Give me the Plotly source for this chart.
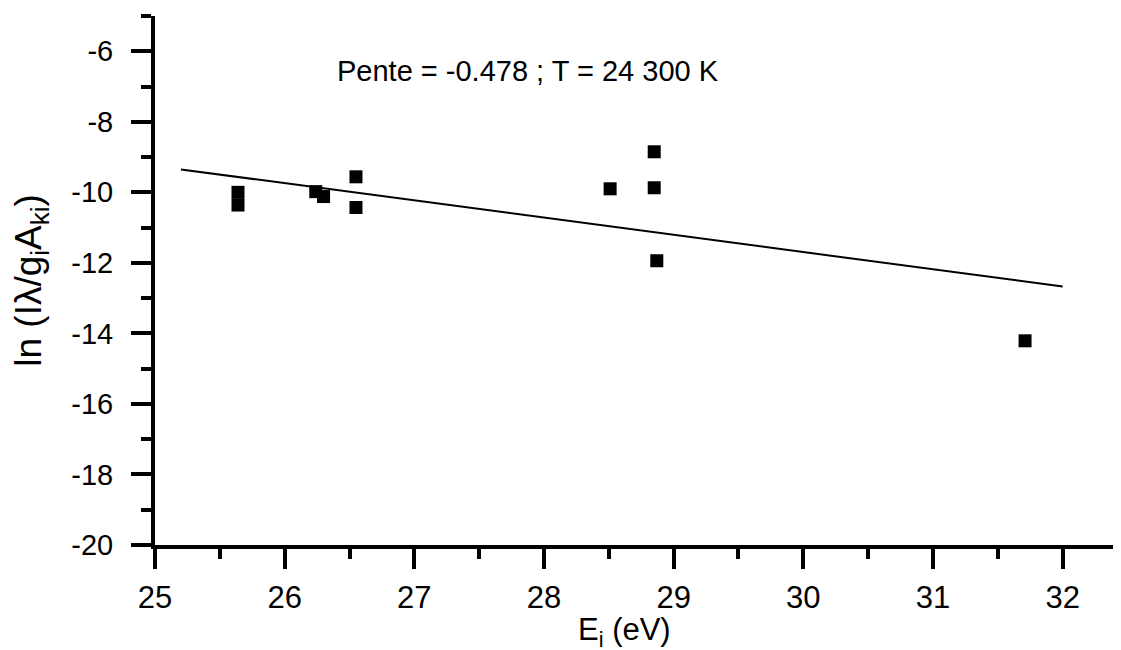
import plotly.graph_objects as go

energy_ev = [25.64, 25.64, 26.24, 26.30, 26.55, 26.55, 28.51, 28.85, 28.85, 28.87, 31.71]
ln_intensity = [-10.00, -10.36, -9.98, -10.12, -9.56, -10.43, -9.90, -8.85, -9.87, -11.94, -14.21]
fit_x = [25.2, 32.0]
fit_y = [-9.35, -12.67]
x_ticks = [25, 26, 27, 28, 29, 30, 31, 32]
y_ticks = [-6, -8, -10, -12, -14, -16, -18, -20]
y_tick_labels = ["-6", "-8", "-10", "-12", "-14", "-16", "-18", "-20"]
annotation_text = "Pente = -0.478 ; T = 24 300 K"
x_title = "E<sub>i</sub> (eV)"
y_title = "ln (I\u03bb/g<sub>i</sub>A<sub>ki</sub>)"

font_family = "Liberation Sans, Arial, sans-serif"

fig = go.Figure()
fig.add_trace(go.Scatter(x=fit_x, y=fit_y, mode="lines",
                         line=dict(color="black", width=2), showlegend=False))
fig.add_trace(go.Scatter(x=energy_ev, y=ln_intensity, mode="markers",
                         marker=dict(symbol="square", size=13, color="black", line=dict(width=0)),
                         showlegend=False))

fig.add_annotation(x=26.39, y=-6.57, xref="x", yref="y", xanchor="left", yanchor="middle",
                   text=annotation_text, showarrow=False,
                   font=dict(size=29, color="black", family=font_family))

# x-axis title placed as an annotation below the tick labels
fig.add_annotation(x=28.62, y=-0.165, xref="x", yref="paper", xanchor="center", yanchor="middle",
                   text=x_title, showarrow=False,
                   font=dict(size=31, color="black", family=font_family))

fig.update_layout(
    width=1121, height=650,
    margin=dict(l=147, r=8, t=8, b=113),
    plot_bgcolor="white", paper_bgcolor="white",
    font=dict(family=font_family, color="black"),
    xaxis=dict(range=[25, 32.45], showgrid=False, zeroline=False,
               showline=True, linecolor="black", linewidth=4,
               ticks="outside", ticklen=20, tickwidth=3.5, tickcolor="black",
               tickvals=x_ticks, tickfont=dict(size=31), ticklabelstandoff=2,
               minor=dict(ticks="outside", ticklen=10, tickwidth=3.5, dtick=0.5, tick0=25, tickcolor="black")),
    yaxis=dict(range=[-20, -5], showgrid=False, zeroline=False,
               showline=True, linecolor="black", linewidth=4,
               ticks="outside", ticklen=20, tickwidth=3.5, tickcolor="black",
               tickvals=y_ticks, ticktext=y_tick_labels, tickfont=dict(size=29),
               ticklabelstandoff=12,
               minor=dict(ticks="outside", ticklen=10, tickwidth=3.5, dtick=1, tick0=0, tickcolor="black"),
               title=dict(text=y_title, font=dict(size=37), standoff=28)),
)

fig.write_html("out.html")
